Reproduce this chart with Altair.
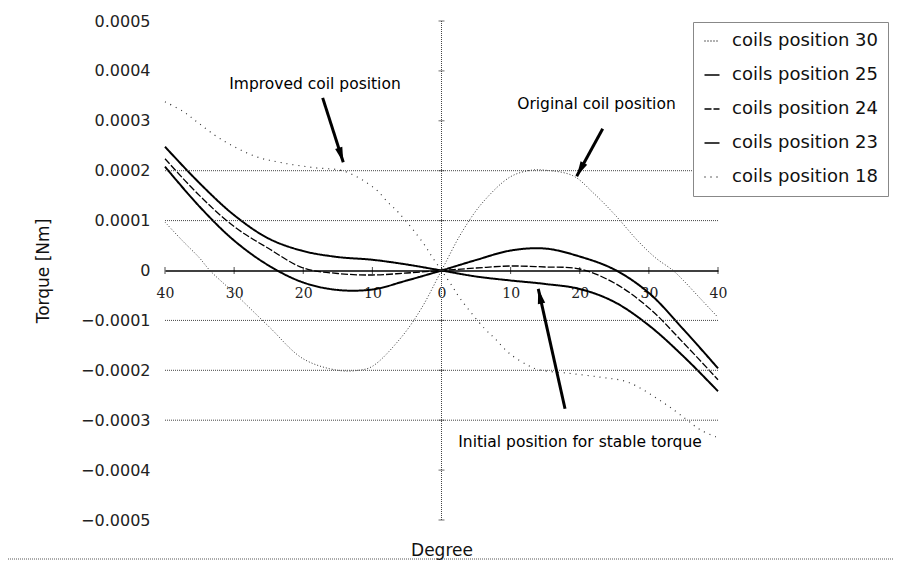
import altair as alt
import pandas as pd

# ---------------- data ----------------
series_names = ["coils position 30", "coils position 25", "coils position 24",
                "coils position 23", "coils position 18"]

deg_30 = [-40, -37.5, -35, -33.5, -30, -25, -20, -15, -12, -10, -6, -3, 0,
          3, 6, 10, 13, 15, 19, 22, 25, 28.5, 31, 33.5, 35, 37.5, 40]
val_30 = [0.000097, 0.00006, 0.000025, 0.0, -0.000045, -0.000112, -0.000177, -0.0002, -0.0002,
          -0.000192, -0.000137, -0.000078, 0.0,
          0.000078, 0.000137, 0.000188, 0.000201, 0.000201, 0.00019, 0.000155, 0.000113,
          0.000058, 0.000025, 0.0, -0.00002, -0.000057, -0.000094]

deg_std = [-40, -35, -30, -25, -20, -15, -10, -5, 0, 5, 10, 15, 20, 25, 30, 35, 40]
val_25 = [0.000248, 0.000175, 0.000111, 0.000064, 0.000039, 0.000027, 0.0000215, 0.000012, 0.0,
          -0.000012, -0.00002, -0.000027, -0.000037, -0.000063, -0.00011, -0.000172, -0.000242]
val_24 = [0.000224, 0.00015, 0.000088, 0.000044, 0.000005, -0.000006, -0.000009, -0.000005, 0.0,
          0.000005, 0.000009, 0.000007, 0.000003, -0.000025, -0.000075, -0.000145, -0.000219]
val_23 = [0.000208, 0.000128, 0.00006, 0.00001, -0.000024, -0.000039, -0.000038, -0.00002, 0.0,
          0.000021, 0.00004, 0.000044, 0.000028, 0.000002, -0.000045, -0.000118, -0.000196]

deg_18 = [-40, -37.4, -35.3, -32, -27, -23.1, -18.4, -14.1, -9.8, -7.7, -6.2, -2.7, -1.3, 0,
          1.3, 2.7, 6.2, 7.7, 9.8, 12.5, 14.1, 18.4, 23.1, 27, 32, 35.3, 37.4, 40]
val_18 = [0.000338, 0.000319, 0.000297, 0.000264, 0.000229, 0.000216, 0.000206, 0.000199,
          0.000166, 0.000136, 0.000116, 0.000056, 0.000026, 0.0,
          -0.000026, -0.000056, -0.000116, -0.000136, -0.000166, -0.00019, -0.000199, -0.000206,
          -0.000214, -0.000224, -0.000264, -0.000297, -0.000319, -0.000335]

x_ticks = [-40, -30, -20, -10, 0, 10, 20, 30, 40]
y_ticks = [0.0005, 0.0004, 0.0003, 0.0002, 0.0001, 0.0, -0.0001, -0.0002, -0.0003, -0.0004, -0.0005]
grid_values = [0.0002, 0.0001, -0.0001, -0.0002, -0.0003]

ann_text = ["Improved coil position", "Original coil position", "Initial position for stable torque"]
ann_x = [-18.3, 22.42, 20.04]
ann_y = [0.000373, 0.000334, -0.000343]

arrow_x = [-17.19, 23.32, 17.87]
arrow_y = [0.000346, 0.000284, -0.000277]
arrow_x2 = [-14.21, 19.56, 14.0]
arrow_y2 = [0.000217, 0.000189, -0.0000367]
arrow_angle = [162.3, 208.6, 347.5]

# ---------------- tables ----------------
styles = {  # series: line width
    series_names[0]: 1.0, series_names[1]: 2.0, series_names[2]: 1.3,
    series_names[3]: 2.0, series_names[4]: 1.2,
}
frames = []
for name, d, v in [(series_names[0], deg_30, val_30),
                   (series_names[1], deg_std, val_25),
                   (series_names[2], deg_std, val_24),
                   (series_names[3], deg_std, val_23),
                   (series_names[4], deg_18, val_18)]:
    frames.append(pd.DataFrame({"deg": d, "torque": v, "series": name, "w": styles[name]}))
df = pd.concat(frames, ignore_index=True)

grid_df = pd.DataFrame({"torque": grid_values, "deg": -40, "deg2": 40})
xt_df = pd.DataFrame({"deg": x_ticks, "torque": 0.0})
yt_df = pd.DataFrame({"deg": 0.0, "torque": y_ticks})
vline_df = pd.DataFrame({"deg": [0.0], "torque": [y_ticks[-1]], "torque2": [y_ticks[0]]})
ann_df = pd.DataFrame({"deg": ann_x, "torque": ann_y, "text": ann_text})
arrow_df = pd.DataFrame({"deg": arrow_x, "torque": arrow_y, "deg2": arrow_x2, "torque2": arrow_y2,
                         "angle": arrow_angle})
frame_df = pd.DataFrame({"k": [0]})

# ---------------- scales / axes ----------------
xs = alt.Scale(domain=[-40, 40], nice=False, zero=False)
ys = alt.Scale(domain=[-0.0005, 0.0005], nice=False, zero=False)

x_axis = alt.Axis(values=x_ticks, labelExpr="'' + abs(datum.value)", offset=-249.5,
                  domainColor="black", domainWidth=1.5, ticks=False, grid=False,
                  labelFont="DejaVu Serif", labelFontSize=14, labelColor="#222",
                  labelPadding=16, labelFlush=False, labelOverlap=False,
                  title="Degree", titleFont="DejaVu Sans", titleFontSize=17,
                  titleFontWeight="normal", titleColor="#111", titleY=280,
                  titleBaseline="middle")
y_axis = alt.Axis(values=y_ticks,
                  labelExpr="datum.value == 0 ? '0' : format(datum.value, '.4f')",
                  domain=False, ticks=False, grid=False,
                  labelFont="DejaVu Sans", labelFontSize=16, labelColor="#222",
                  labelPadding=15, labelOverlap=False, labelFlush=False,
                  title="Torque [Nm]", titleFont="DejaVu Sans", titleFontSize=17,
                  titleFontWeight="normal", titleColor="#111", titleAngle=270,
                  titleX=-122, titleY=249.5, titleAlign="center", titleBaseline="middle")

legend = alt.Legend(title=None, orient="none", legendX=528, legendY=1, direction="vertical",
                    symbolType="stroke", symbolSize=225, symbolStrokeWidth=1.5,
                    labelFont="DejaVu Sans",
                    labelFontSize=18, labelColor="#111", labelOffset=11, labelLimit=300,
                    rowPadding=16, padding=10, fillColor="white", strokeColor="#888",
                    cornerRadius=0)

colors = ["#333333", "black", "black", "black", "#333333"]
dashes = [[1, 2], [1, 0], [7, 2], [1, 0], [1, 5]]

lines = alt.Chart(df).mark_line(interpolate="catmull-rom").encode(
    x=alt.X("deg:Q", scale=xs, axis=x_axis),
    y=alt.Y("torque:Q", scale=ys, axis=y_axis),
    color=alt.Color("series:N", scale=alt.Scale(domain=series_names, range=colors), legend=legend),
    strokeDash=alt.StrokeDash("series:N", scale=alt.Scale(domain=series_names, range=dashes), legend=legend),
    strokeWidth=alt.StrokeWidth("w:Q", scale=None),
)

X = lambda f="deg": alt.X(f + ":Q", scale=xs)
Y = lambda f="torque": alt.Y(f + ":Q", scale=ys)

grid = alt.Chart(grid_df).mark_rule(color="#444", strokeDash=[1, 1], strokeWidth=1).encode(
    x=X(), x2="deg2:Q", y=Y())

vline = alt.Chart(vline_df).mark_rule(color="#444", strokeDash=[1, 1], strokeWidth=1).encode(
    x=X(), y=Y(), y2="torque2:Q")

xticks = alt.Chart(xt_df).mark_tick(orient="vertical", size=7, thickness=1, color="black").encode(
    x=X(), y=Y())

yticks = alt.Chart(yt_df).mark_tick(orient="horizontal", size=6, thickness=1, color="#333").encode(
    x=X(), y=Y())

arrow_lines = alt.Chart(arrow_df).mark_rule(color="black", strokeWidth=3).encode(
    x=X(), y=Y(), x2="deg2:Q", y2="torque2:Q")

arrow_heads = alt.Chart(arrow_df).mark_point(
    shape="M0,0L0.5,2L-0.5,2Z", filled=True, size=225, color="black", opacity=1, strokeWidth=0
).encode(x=X("deg2"), y=Y("torque2"), angle=alt.Angle("angle:Q", scale=None))

texts = alt.Chart(ann_df).mark_text(font="DejaVu Sans", fontSize=15.5, color="black",
                                    align="center", baseline="middle").encode(
    x=X(), y=Y(), text="text:N")

bottom = alt.Chart(frame_df).mark_rule(color="#555", strokeDash=[1, 1], strokeWidth=1).encode(
    x=alt.value(-157), x2=alt.value(728), y=alt.value(538))

chart = alt.layer(lines, grid, vline, xticks, yticks, arrow_lines, arrow_heads, texts, bottom).properties(
    width=553, height=499,
    background="white",
    autosize=alt.AutoSizeParams(type="none"),
    padding={"left": 157, "top": 13, "right": 175, "bottom": 42},
).configure_view(stroke=None, strokeWidth=0)

chart.save("out.html", embed_options={"renderer": "svg", "actions": False})
